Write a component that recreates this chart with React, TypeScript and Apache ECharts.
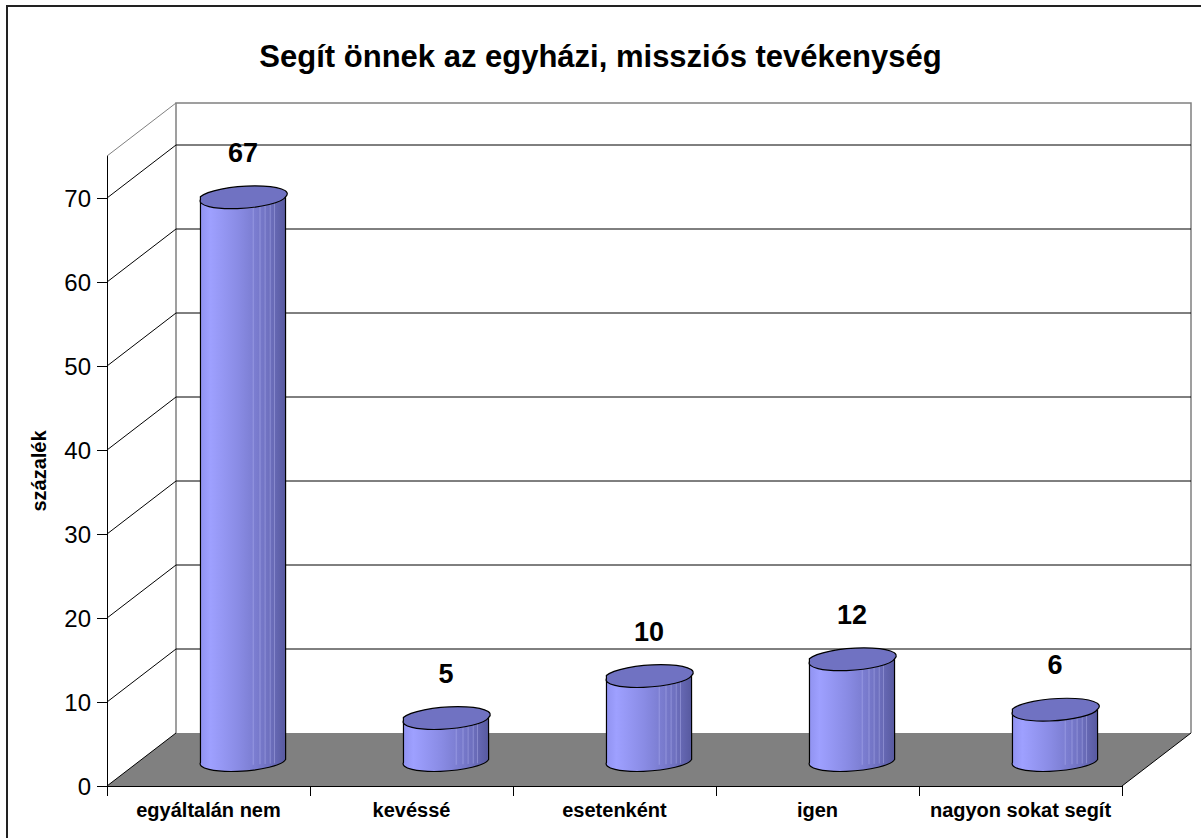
import React, { useEffect, useRef } from "react";
import * as echarts from "echarts";

const categories = ["egyáltalán nem", "kevéssé", "esetenként", "igen", "nagyon sokat segít"];
const values = [67, 5, 10, 12, 6];
const yTicks = [0, 10, 20, 30, 40, 50, 60, 70];
const Y_MAX = 75;
const TITLE = "Segít önnek az egyházi, missziós tevékenység";
const Y_NAME = "százalék";

const FONT = "Arial, 'Liberation Sans', Helvetica, sans-serif";
const DX = 69;
const DY = -53;
const TILT = 4; // degrees

export default function App() {
  const ref = useRef<HTMLDivElement>(null);
  useEffect(() => {
    if (!ref.current) return;
    const chart = echarts.init(ref.current, null, { renderer: "svg" });

    const frameItem = (params: any, api: any) => {
      const cs = params.coordSys;
      const X0 = cs.x;
      const X1 = cs.x + cs.width;
      const y0 = api.coord([0, 0])[1];
      const yt = api.coord([0, Y_MAX])[1];
      return {
        type: "group",
        children: [
          {
            type: "polygon",
            shape: {
              points: [
                [X0, y0],
                [X1, y0],
                [X1 + DX, y0 + DY],
                [X0 + DX, y0 + DY],
              ],
            },
            style: { fill: "#808080", stroke: "none" },
          },
          {
            type: "polyline",
            shape: {
              points: [
                [X0 + DX, y0 + DY],
                [X0 + DX, yt + DY],
                [X1 + DX, yt + DY],
                [X1 + DX, y0 + DY],
              ],
            },
            style: { stroke: "#808080", lineWidth: 1.5, fill: "none" },
          },
          {
            type: "line",
            shape: { x1: X0, y1: yt, x2: X0 + DX, y2: yt + DY },
            style: { stroke: "#808080", lineWidth: 1 },
          },
          {
            type: "line",
            shape: { x1: X1, y1: y0, x2: X1 + DX, y2: y0 + DY },
            style: { stroke: "#000", lineWidth: 1 },
          },
        ],
      };
    };

    const wallItem = (params: any, api: any) => {
      const cs = params.coordSys;
      const X0 = cs.x;
      const X1 = cs.x + cs.width;
      const v = api.value(1);
      const y = api.coord([0, v])[1];
      const children: any[] = [
        {
          type: "line",
          shape: { x1: X0, y1: y, x2: X0 + DX, y2: y + DY },
          style: { stroke: "#000", lineWidth: 1 },
        },
      ];
      if (v > 0) {
        children.push({
          type: "line",
          shape: { x1: X0 + DX, y1: y + DY, x2: X1 + DX, y2: y + DY },
          style: { stroke: "#000", lineWidth: 1 },
        });
      }
      return { type: "group", children };
    };

    const cylItem = (params: any, api: any) => {
      const idx = api.value(0);
      const v = api.value(1);
      const base = api.coord([idx, 0]);
      const top = api.coord([idx, v]);
      const band = api.size([1, 0])[0];
      const rx = band * 0.21;
      const ry = 10;
      const cx = base[0] + DX / 2;
      const cyB = base[1] + DY / 2;
      const cyT = top[1] + DY / 2;
      const a = (TILT * Math.PI) / 180;
      const ox = rx * Math.cos(a);
      const oy = rx * Math.sin(a);
      const LT = [cx - ox, cyT + oy];
      const RT = [cx + ox, cyT - oy];
      const LB = [cx - ox, cyB + oy];
      const RB = [cx + ox, cyB - oy];
      const body =
        `M${LT[0]},${LT[1]} L${LB[0]},${LB[1]} ` +
        `A${rx},${ry} ${-TILT} 0 0 ${RB[0]},${RB[1]} ` +
        `L${RT[0]},${RT[1]} Z`;
      const cap =
        `M${LT[0]},${LT[1]} A${rx},${ry} ${-TILT} 0 0 ${RT[0]},${RT[1]} ` +
        `A${rx},${ry} ${-TILT} 0 0 ${LT[0]},${LT[1]} Z`;
      const grad = new echarts.graphic.LinearGradient(0, 0, 1, 0, [
        { offset: 0, color: "#9092f0" },
        { offset: 0.12, color: "#9ea0ff" },
        { offset: 0.45, color: "#898be4" },
        { offset: 0.8, color: "#6f71c0" },
        { offset: 1, color: "#57599f" },
      ]);
      const stripes: any[] = [];
      const fr = [0.62, 0.7, 0.76, 0.82, 0.87];
      fr.forEach((f) => {
        const x = cx - ox + 2 * ox * f;
        stripes.push({
          type: "line",
          shape: { x1: x, y1: cyT + oy - 2 * oy * f + 6, x2: x, y2: cyB + oy - 2 * oy * f + 6 },
          style: { stroke: "rgba(200,200,255,0.35)", lineWidth: 1 },
        });
      });
      return {
        type: "group",
        children: [
          {
            type: "path",
            shape: { pathData: body },
            style: { fill: grad, stroke: "#000", lineWidth: 1.2 },
          },
          ...stripes,
          {
            type: "path",
            shape: { pathData: cap },
            style: { fill: "#7072c2", stroke: "#000", lineWidth: 1.2 },
          },
          {
            type: "text",
            style: {
              text: String(v),
              x: cx,
              y: cyT - 44,
              align: "center",
              verticalAlign: "middle",
              fontFamily: FONT,
              fontWeight: "bold",
              fontSize: 27,
              fill: "#000",
            },
          },
        ],
      };
    };

    chart.setOption({
      animation: false,
      backgroundColor: "#fff",
      title: {
        text: TITLE,
        left: "center",
        top: 36,
        textStyle: { fontFamily: FONT, fontWeight: "bold", fontSize: 31, color: "#000" },
      },
      graphic: [
        {
          type: "rect",
          shape: { x: 7, y: 6, width: 1250, height: 900 },
          style: { fill: "none", stroke: "#222", lineWidth: 2 },
          silent: true,
        },
      ],
      grid: { left: 107, right: 79, top: 156, bottom: 52, containLabel: false },
      xAxis: {
        type: "category",
        data: categories,
        axisLine: { show: true, lineStyle: { color: "#000", width: 1 } },
        axisTick: { show: true, length: 10, lineStyle: { color: "#000" } },
        axisLabel: {
          interval: 0,
          color: "#000",
          fontFamily: FONT,
          fontWeight: "bold",
          fontSize: 20,
          margin: 14,
        },
        splitLine: { show: false },
      },
      yAxis: {
        type: "value",
        min: 0,
        max: Y_MAX,
        interval: 10,
        name: Y_NAME,
        nameLocation: "middle",
        nameRotate: 90,
        nameGap: 58,
        nameTextStyle: { fontFamily: FONT, fontWeight: "bold", fontSize: 20, color: "#000" },
        axisLine: { show: true, lineStyle: { color: "#000", width: 1 } },
        axisTick: { show: true, length: 10, customValues: yTicks, lineStyle: { color: "#000" } },
        axisLabel: {
          color: "#000",
          fontFamily: FONT,
          fontSize: 24,
          margin: 16,
          customValues: yTicks,
        },
        splitLine: { show: false },
      },
      series: [
        {
          type: "custom",
          name: "frame",
          z: 1,
          silent: true,
          renderItem: frameItem,
          data: [[0, 0]],
        },
        {
          type: "custom",
          name: "walls",
          z: 2,
          silent: true,
          renderItem: wallItem,
          data: yTicks.map((v) => [0, v]),
        },
        {
          type: "custom",
          name: "százalék",
          z: 3,
          renderItem: cylItem,
          data: values.map((v, i) => [i, v]),
        },
      ],
    });
    return () => chart.dispose();
  }, []);
  return (
    <div
      ref={ref}
      style={{ position: "fixed", left: 0, top: 0, width: 1201, height: 838 }}
    />
  );
}
